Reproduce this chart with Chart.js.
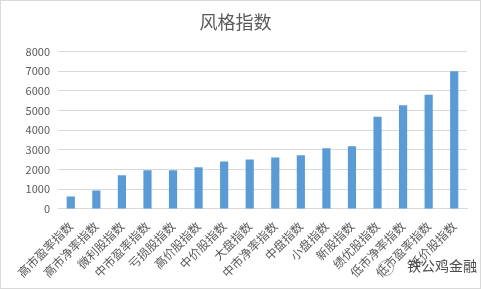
<!DOCTYPE html>
<html>
<head>
  <title>风格指数</title>
  <script src="https://cdn.jsdelivr.net/npm/chart.js"></script>
  <style>
    html, body { margin: 0; padding: 0; background: #fff; }
    #wrap { position: relative; width: 481px; height: 289px; box-sizing: border-box; border: 1px solid #d9d9d9; }
    #mark { position: absolute; left: 406px; top: 254px; font: 14px "Noto Sans CJK SC"; color: #4a4a4a; }
    #icon { position: absolute; left: 377px; top: 259px; width: 14px; height: 14px; border: 1px solid #aaa; border-radius: 50%; }
  </style>
</head>
<body>
  <div id="wrap">
    <canvas id="canvas" width="479" height="287"></canvas>
    <div id="icon"></div>
    <span id="mark">铁公鸡金融</span>
  </div>
  <script>
    var categories = ['高市盈率指数', '高市净率指数', '微利股指数', '中市盈率指数', '亏损股指数', '高价股指数',
                      '中价股指数', '大盘指数', '中市净率指数', '中盘指数', '小盘指数', '新股指数',
                      '绩优股指数', '低市净率指数', '低市盈率指数', '低价股指数'];
    var values = [630, 930, 1710, 1970, 1960, 2120, 2410, 2510, 2610, 2730, 3080, 3190, 4690, 5270, 5810, 7000];
    var yTicks = [0, 1000, 2000, 3000, 4000, 5000, 6000, 7000, 8000];

    var ctx = document.getElementById('canvas').getContext('2d');
    var font = '"Noto Sans CJK SC", "Liberation Sans", sans-serif';

    var myBar = new Chart(ctx, {
      type: 'bar',
      data: {
        labels: categories,
        datasets: [{
          data: values,
          backgroundColor: '#5b9bd5',
          barPercentage: 0.32,
          categoryPercentage: 1.0
        }]
      },
      options: {
        responsive: false,
        animation: false,
        layout: { padding: { left: 3, right: 13, top: 4, bottom: 6 } },
        plugins: {
          legend: { display: false },
          tooltip: { enabled: false },
          title: {
            display: true,
            text: '风格指数',
            color: '#595959',
            font: { family: font, size: 18, weight: 'normal' },
            padding: { top: 6, bottom: 19 }
          }
        },
        scales: {
          x: {
            grid: { display: false },
            border: { color: '#d9d9d9' },
            ticks: {
              color: '#595959',
              font: { family: font, size: 12 },
              minRotation: 45,
              maxRotation: 45,
              autoSkip: false,
              padding: 2
            }
          },
          y: {
            min: yTicks[0],
            max: yTicks[yTicks.length - 1],
            grid: { color: '#d9d9d9', drawTicks: false },
            border: { display: false },
            afterBuildTicks: function (axis) {
              axis.ticks = yTicks.map(function (v) { return { value: v }; });
            },
            afterFit: function (axis) { axis.width = 54; },
            ticks: {
              color: '#595959',
              font: { family: font, size: 11 },
              padding: 8,
              callback: function (v) { return String(v); }
            }
          }
        }
      }
    });
  </script>
</body>
</html>
